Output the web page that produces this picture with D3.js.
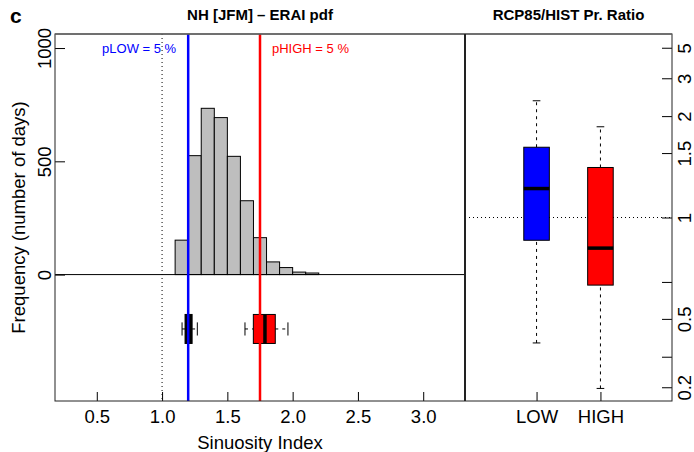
<!DOCTYPE html>
<html>
<head>
<meta charset="utf-8">
<script src="https://cdn.jsdelivr.net/npm/d3@7"></script>
<style>
  body { margin: 0; background: #fff; }
  svg { font-family: "Liberation Sans", Arial, Helvetica, sans-serif; }
</style>
</head>
<body>
<svg id="chart" width="694" height="452"></svg>
<script>
// histogram of ERAI sinuosity (bin left edges, width 0.1)
const binLefts = [1.1, 1.2, 1.3, 1.4, 1.5, 1.6, 1.7, 1.8, 1.9, 2.0, 2.1];
const binCounts = [152, 525, 734, 693, 522, 326, 163, 56, 31, 11, 7];
const binWidth = 0.1;

const xTicks = [0.5, 1.0, 1.5, 2.0, 2.5, 3.0];
const yTicks = [0, 500, 1000];

// thresholds
const pLow = 1.2, pHigh = 1.75;
const pLowPct = 5, pHighPct = 5;

// model spread of thresholds: [min, q1, median, q3, max]
const threshStats = [
  [1.153, 1.176, 1.200, 1.230, 1.270],
  [1.635, 1.699, 1.788, 1.867, 1.964]
];
const threshBoxLevel = -240;

// RCP85/HIST probability ratio
const ratioGroups = ["LOW", "HIGH"];
const ratioStats = [
  [0.394, 0.872, 1.191, 1.563, 2.313],
  [0.195, 0.652, 0.831, 1.361, 1.827]
];
const ratioTicks = [0.2, 1 / 3, 0.5, 2 / 3, 1, 1.5, 2, 3, 5];
const ratioTickLabels = ["0.2", "", "0.5", "", "1", "1.5", "2", "3", "5"];

const svg = d3.select("#chart");
const pTop = 34, pBottom = 401, pLeft = 55, pMid = 465, pRight = 672;
const fs = 18.5;

// ---- left panel
const x = d3.scaleLinear().domain([0.18, 3.32]).range([pLeft, pMid]);
const y = d3.scaleLinear().domain([-558, 1062]).range([pBottom, pTop]);

svg.append("g").selectAll("rect").data(binLefts).join("rect")
  .attr("x", d => x(d))
  .attr("width", d => x(d + binWidth) - x(d))
  .attr("y", (d, i) => y(binCounts[i]))
  .attr("height", (d, i) => y(0) - y(binCounts[i]))
  .attr("fill", "#bebebe")
  .attr("stroke", "#000")
  .attr("stroke-width", 1);

svg.append("line")
  .attr("x1", pLeft).attr("x2", pMid).attr("y1", y(0)).attr("y2", y(0))
  .attr("stroke", "#000").attr("stroke-width", 1);

svg.append("line")
  .attr("x1", x(1)).attr("x2", x(1)).attr("y1", pTop).attr("y2", pBottom)
  .attr("stroke", "#000").attr("stroke-dasharray", "1,3");

// horizontal boxplots
const boxFills = ["#000", "#ff0000"];
const hb = svg.append("g");
threshStats.forEach((s, i) => {
  const yc = y(threshBoxLevel);
  const hh = y(threshBoxLevel - 64) - yc;
  const ch = y(threshBoxLevel - 29) - yc;
  [[s[0], s[1]], [s[3], s[4]]].forEach(w => {
    hb.append("line").attr("x1", x(w[0])).attr("x2", x(w[1]))
      .attr("y1", yc).attr("y2", yc)
      .attr("stroke", "#000").attr("stroke-dasharray", "3,4");
  });
  [s[0], s[4]].forEach(v => {
    hb.append("line").attr("x1", x(v)).attr("x2", x(v))
      .attr("y1", yc - ch).attr("y2", yc + ch).attr("stroke", "#000");
  });
  hb.append("rect")
    .attr("x", x(s[1])).attr("width", x(s[3]) - x(s[1]))
    .attr("y", yc - hh).attr("height", 2 * hh)
    .attr("fill", boxFills[i]).attr("stroke", "#000");
  hb.append("line").attr("x1", x(s[2])).attr("x2", x(s[2]))
    .attr("y1", yc - hh).attr("y2", yc + hh)
    .attr("stroke", "#000").attr("stroke-width", 3.5);
});

// threshold lines
svg.append("line")
  .attr("x1", x(pLow)).attr("x2", x(pLow)).attr("y1", pTop).attr("y2", pBottom)
  .attr("stroke", "#0000ff").attr("stroke-width", 2.5);
svg.append("line")
  .attr("x1", x(pHigh)).attr("x2", x(pHigh)).attr("y1", pTop).attr("y2", pBottom)
  .attr("stroke", "#ff0000").attr("stroke-width", 2.5);

svg.append("text")
  .attr("x", x(pLow) - 12).attr("y", y(1000) + 4.5)
  .attr("text-anchor", "end").attr("font-size", 13).attr("fill", "#0000ff")
  .text(`pLOW = ${pLowPct} %`);
svg.append("text")
  .attr("x", x(pHigh) + 12).attr("y", y(1000) + 4.5)
  .attr("text-anchor", "start").attr("font-size", 13).attr("fill", "#ff0000")
  .text(`pHIGH = ${pHighPct} %`);

// axes
const xAxis = svg.append("g")
  .attr("transform", `translate(0,${pBottom})`)
  .call(d3.axisBottom(x).tickValues(xTicks).tickFormat(d3.format(".1f"))
    .tickSize(-9).tickPadding(9));
xAxis.select(".domain").remove();
xAxis.selectAll("text").attr("font-size", fs).attr("font-family", null).attr("fill", "#000");

const yAxis = svg.append("g")
  .attr("transform", `translate(${pLeft},0)`)
  .call(d3.axisLeft(y).tickValues(yTicks).tickFormat(d3.format("d")).tickSize(-10));
yAxis.select(".domain").remove();
yAxis.selectAll("text")
  .attr("x", null).attr("dy", null)
  .attr("text-anchor", "middle")
  .attr("transform", "translate(-4,0) rotate(-90)")
  .attr("font-size", fs).attr("font-family", null).attr("fill", "#000");

svg.append("text")
  .attr("transform", `translate(25,${(pTop + pBottom) / 2}) rotate(-90)`)
  .attr("text-anchor", "middle").attr("font-size", fs)
  .text("Frequency (number of days)");
svg.append("text")
  .attr("x", (pLeft + pMid) / 2).attr("y", 449)
  .attr("text-anchor", "middle").attr("font-size", fs)
  .text("Sinuosity Index");

// ---- right panel
const xp = d3.scaleLinear().domain([-0.12, 3.12]).range([pMid, pRight]);
const t = r => Math.atan(Math.log(r));
const yr = d3.scaleLinear().domain([-1.097, 1.097]).range([pBottom, pTop]);

svg.append("line")
  .attr("x1", pMid).attr("x2", pRight).attr("y1", yr(t(1))).attr("y2", yr(t(1)))
  .attr("stroke", "#000").attr("stroke-dasharray", "1,3");

const ratioFills = ["#0000ff", "#ff0000"];
const rb = svg.append("g");
ratioStats.forEach((s, i) => {
  const xc = xp(i + 1);
  const hw = xp(i + 1 + 0.2) - xc;
  const cw = xp(i + 1 + 0.06) - xc;
  [[s[0], s[1]], [s[3], s[4]]].forEach(w => {
    rb.append("line").attr("x1", xc).attr("x2", xc)
      .attr("y1", yr(t(w[0]))).attr("y2", yr(t(w[1])))
      .attr("stroke", "#000").attr("stroke-dasharray", "3,4");
  });
  [s[0], s[4]].forEach(v => {
    rb.append("line").attr("x1", xc - cw).attr("x2", xc + cw)
      .attr("y1", yr(t(v))).attr("y2", yr(t(v))).attr("stroke", "#000");
  });
  rb.append("rect")
    .attr("x", xc - hw).attr("width", 2 * hw)
    .attr("y", yr(t(s[3]))).attr("height", yr(t(s[1])) - yr(t(s[3])))
    .attr("fill", ratioFills[i]).attr("stroke", "#000");
  rb.append("line").attr("x1", xc - hw).attr("x2", xc + hw)
    .attr("y1", yr(t(s[2]))).attr("y2", yr(t(s[2])))
    .attr("stroke", "#000").attr("stroke-width", 3.5);
});

const rAxis = svg.append("g")
  .attr("transform", `translate(${pRight},0)`)
  .call(d3.axisRight(yr).tickValues(ratioTicks.map(t))
    .tickFormat((d, i) => ratioTickLabels[i]).tickSize(-10));
rAxis.select(".domain").remove();
rAxis.selectAll("text")
  .attr("x", null).attr("dy", null)
  .attr("text-anchor", "middle")
  .attr("transform", "translate(19,0) rotate(-90)")
  .attr("font-size", fs).attr("font-family", null).attr("fill", "#000");

const gAxis = svg.append("g")
  .attr("transform", `translate(0,${pBottom})`)
  .call(d3.axisBottom(xp).tickValues([1, 2])
    .tickFormat((d, i) => ratioGroups[i]).tickSize(-9).tickPadding(9));
gAxis.select(".domain").remove();
gAxis.selectAll("text").attr("font-size", fs).attr("font-family", null).attr("fill", "#000");

// frame
svg.append("rect")
  .attr("x", pLeft).attr("y", pTop).attr("width", pRight - pLeft).attr("height", pBottom - pTop)
  .attr("fill", "none").attr("stroke", "#222").attr("stroke-width", 1);
svg.append("line")
  .attr("x1", pLeft).attr("x2", pRight).attr("y1", pTop).attr("y2", pTop)
  .attr("stroke", "#666").attr("stroke-width", 1.5);
svg.append("line")
  .attr("x1", pMid).attr("x2", pMid).attr("y1", pTop).attr("y2", pBottom)
  .attr("stroke", "#222").attr("stroke-width", 2);

// titles
svg.append("text").attr("x", (pLeft + pMid) / 2).attr("y", 20)
  .attr("text-anchor", "middle").attr("font-size", 15).attr("font-weight", "bold")
  .text("NH [JFM] \u2013 ERAI pdf");
svg.append("text").attr("x", (pMid + pRight) / 2).attr("y", 20)
  .attr("text-anchor", "middle").attr("font-size", 15).attr("font-weight", "bold")
  .text("RCP85/HIST Pr. Ratio");
svg.append("text").attr("x", 10).attr("y", 23)
  .attr("font-size", 21).attr("font-weight", "bold")
  .text("c");
</script>
</body>
</html>
